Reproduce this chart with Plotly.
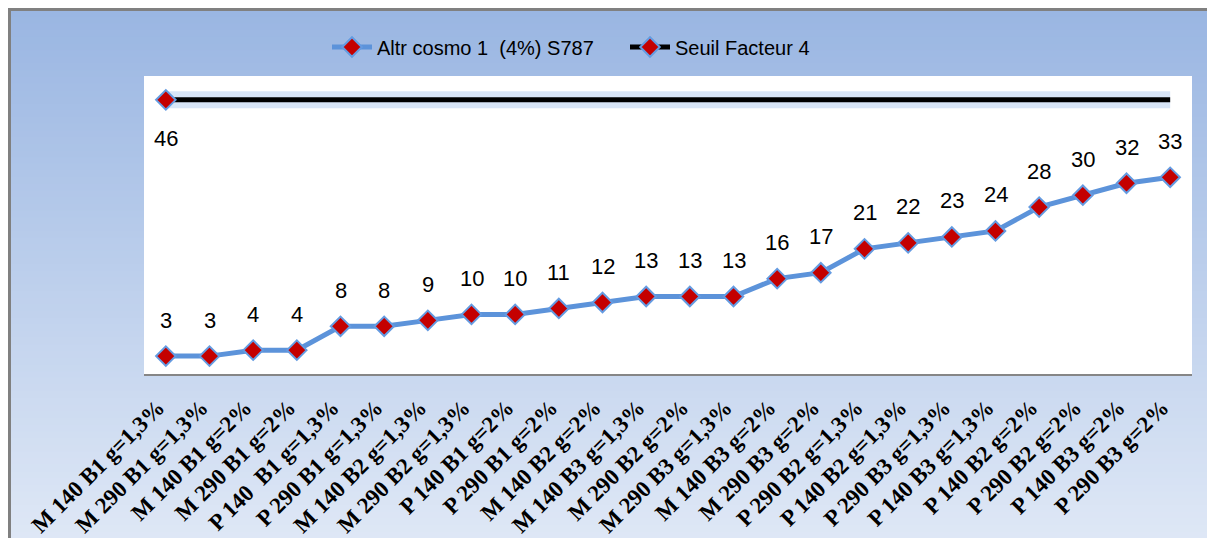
import plotly.graph_objects as go

categories = [
    "M 140 B1 g=1,3%", "M 290 B1 g=1,3%", "M 140 B1 g=2%", "M 290 B1 g=2%",
    "P 140  B1 g=1,3%", "P 290 B1 g=1,3%", "M 140 B2 g=1,3%", "M 290 B2 g=1,3%",
    "P 140 B1 g=2%", "P 290 B1 g=2%", "M 140 B2 g=2%", "M 140 B3 g=1,3%",
    "M 290 B2 g=2%", "M 290 B3 g=1,3%", "M 140 B3 g=2%", "M 290 B3 g=2%",
    "P 290 B2 g=1,3%", "P 140 B2 g=1,3%", "P 290 B3 g=1,3%", "P 140 B3 g=1,3%",
    "P 140 B2 g=2%", "P 290 B2 g=2%", "P 140 B3 g=2%", "P 290 B3 g=2%",
]
altr_values = [3, 3, 4, 4, 8, 8, 9, 10, 10, 11, 12, 13, 13, 13, 16, 17, 21, 22, 23, 24, 28, 30, 32, 33]
seuil_values = [46, 46, 46, 46, 46, 46, 46, 46, 46, 46, 46, 46,
                46, 46, 46, 46, 46, 46, 46, 46, 46, 46, 46, 46]
series_names = ["Altr cosmo 1  (4%) S787", "Seuil Facteur 4"]

# page body adds an 8px margin; figure coordinates = screen - 8
OFF = 8
W, H = 1215 - OFF, 538 - OFF
L, T = 144 - OFF, 76 - OFF
R = W - (1192 - OFF)
B = H - (374 - OFF)
PW, PH = W - L - R, H - T - B


def px_x(p):
    return (p - OFF - L) / PW


def px_y(p):
    return (H - B - (p - OFF)) / PH


shapes = []
n = 80
top_c = (154, 182, 226)
bot_c = (223, 232, 246)
y_start, y_end = 10, 545
for i in range(n):
    t = i / (n - 1)
    c = tuple(round(top_c[k] + (bot_c[k] - top_c[k]) * t) for k in range(3))
    ya = y_start + (y_end - y_start) * i / n
    yb = y_start + (y_end - y_start) * (i + 1) / n + 1
    shapes.append(dict(type="rect", xref="paper", yref="paper", layer="below",
                       x0=px_x(10), x1=px_x(1240), y0=px_y(ya), y1=px_y(yb),
                       fillcolor="rgb(%d,%d,%d)" % c, line=dict(width=0)))
border = dict(color="rgb(128,128,128)", width=3)
shapes.append(dict(type="line", xref="paper", yref="paper", layer="below",
                   x0=px_x(9.5), x1=px_x(9.5), y0=px_y(8), y1=px_y(560), line=border))
shapes.append(dict(type="line", xref="paper", yref="paper", layer="below",
                   x0=px_x(8), x1=px_x(1250), y0=px_y(9.5), y1=px_y(9.5), line=border))
shapes.append(dict(type="rect", xref="paper", yref="paper", layer="below",
                   x0=0, x1=1, y0=0, y1=1, fillcolor="white", line=dict(width=0)))

fig = go.Figure()

fig.add_trace(go.Scatter(x=categories, y=seuil_values, mode="lines",
                         line=dict(color="rgba(125,170,228,0.30)", width=17),
                         showlegend=False, hoverinfo="skip"))
fig.add_trace(go.Scatter(x=categories, y=seuil_values, mode="lines",
                         line=dict(color="black", width=5),
                         showlegend=False, hoverinfo="skip", legendgroup="s"))

marker_style = dict(symbol="diamond", size=15, color="rgb(196,0,0)",
                    line=dict(color="rgb(100,155,225)", width=2))
fig.add_trace(go.Scatter(x=categories, y=altr_values, mode="lines+markers",
                         name=series_names[0],
                         line=dict(color="rgb(92,147,218)", width=5),
                         marker=marker_style))
fig.add_trace(go.Scatter(x=categories[:1], y=seuil_values[:1], mode="lines+markers",
                         name=series_names[1], legendgroup="s",
                         line=dict(color="black", width=5),
                         marker=marker_style))

label_font = dict(family="Liberation Sans", size=22, color="black")
annotations = []
for c, v in zip(categories, altr_values):
    annotations.append(dict(x=c, y=v, text=str(v), showarrow=False, yshift=36, font=label_font))
annotations.append(dict(x=categories[0], y=seuil_values[0], text=str(seuil_values[0]),
                        showarrow=False, yshift=-39, font=label_font))

fig.update_layout(
    width=W, height=H,
    margin=dict(l=L, r=R, t=T, b=B, autoexpand=False),
    paper_bgcolor="white", plot_bgcolor="white",
    shapes=shapes, annotations=annotations,
    showlegend=True,
    legend=dict(orientation="h", x=px_x(327), xanchor="left", y=px_y(47), yanchor="middle",
                font=dict(family="Liberation Sans", size=20, color="black"),
                bgcolor="rgba(0,0,0,0)", traceorder="normal", itemwidth=40,
                entrywidth=243, entrywidthmode="pixels"),
    xaxis=dict(type="category", range=[-0.5, 23.5], showgrid=False, zeroline=False,
               showline=True, linecolor="rgb(134,134,134)", linewidth=2,
               ticks="", tickangle=-45, ticklabelstandoff=9, ticklabelshift=-8,
               tickfont=dict(family="Liberation Serif", size=23, color="black", weight="bold"),
               automargin=False),
    yaxis=dict(range=[0, 50], showgrid=False, zeroline=False, showline=False,
               showticklabels=False, ticks="", automargin=False),
)

fig.write_html(
    "out.html",
    post_script="document.documentElement.style.overflow='hidden';document.body.style.overflow='hidden';",
)
